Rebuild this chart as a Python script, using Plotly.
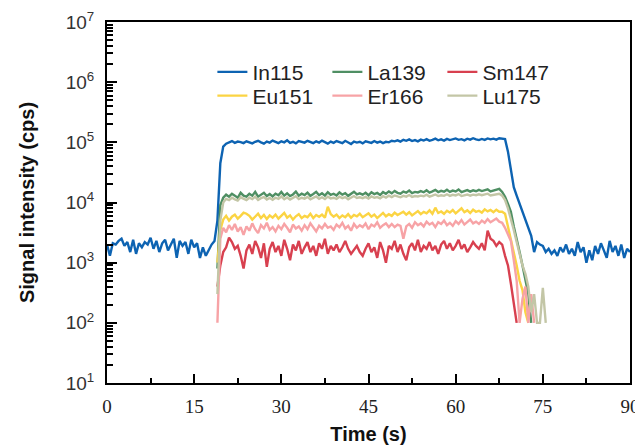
import numpy as np
import plotly.graph_objects as go

# ---------------- data ----------------
step = 0.5
in115_start = 0.0
in115 = [
    2000, 1300, 2100, 2000, 2300, 2500, 1900, 2200, 1500, 2400,
    1400, 2100, 1800, 2200, 2000, 2600, 1700, 2300, 1500, 2100,
    2400, 1600, 2000, 2500, 1200, 2300, 1900, 2200, 1400, 2400,
    1800, 2100, 1200, 1800, 1300, 1600, 2000, 2300, 5000, 45000,
    85000, 95000, 100000, 105000, 98000, 103000, 101000, 97000, 104000, 99000,
    96000, 102000, 106000, 100000, 95000, 103000, 99000, 107000, 101000, 97000,
    104000, 100000, 108000, 98000, 102000, 96000, 105000, 101000, 99000, 106000,
    100000, 97000, 104000, 99000, 107000, 102000, 95000, 103000, 98000, 105000,
    101000, 97000, 106000, 100000, 94000, 103000, 99000, 102000, 96000, 104000,
    100000, 98000, 105000, 99000, 103000, 97000, 102000, 100000, 106000, 104000,
    108000, 103000, 110000, 106000, 112000, 105000, 109000, 104000, 111000, 107000,
    113000, 106000, 110000, 115000, 108000, 112000, 107000, 114000, 109000, 111000,
    116000, 110000, 113000, 108000, 115000, 111000, 117000, 112000, 109000, 114000,
    110000, 116000, 112000, 115000, 111000, 117000, 114000, 113000, 70000, 38000,
    18000, 13000, 9500, 7500, 5500, 4000, 2800, 1500, 2200, 2000,
    1900, 1500, 1700, 1400, 1600, 1300, 1800, 1500, 2000, 1400,
    1700, 1300, 2200, 1500, 1800, 1000, 1600, 1100, 1900, 1400,
    2100, 1600, 1200, 2300, 1500, 1900, 1300, 2000, 1200, 1700,
    1500,
]

el_start = 19.0
la139 = [
    800, 9000, 12000, 13500, 12500, 14000, 13000, 12000, 14500, 13000,
    12500, 14000, 13000, 15000, 12500, 13500, 14500, 12800, 13800, 12600,
    14000, 13200, 15000, 13000, 14200, 12800, 13600, 15200, 13000, 14000,
    13300, 14600, 12900, 13800, 15000, 13200, 14200, 13000, 14800, 13400,
    14000, 13100, 14700, 13500, 14300, 12900, 13900, 15100, 13600, 14200,
    13500, 14500, 13200, 14800, 13800, 14400, 13300, 14900, 14000, 15300,
    14200, 15600, 14500, 14000, 15200, 14600, 15800, 14300, 15000, 14700,
    15500, 14800, 16000, 14600, 15300, 16200, 14900, 15600, 15100, 16300,
    15000, 15800, 15300, 16500, 14900, 15700, 16100, 15200, 15900, 15400,
    16200, 15500, 15900, 16600, 15300, 15800, 16200, 16800, 15000, 12500,
    9500, 7000, 4000, 2300, 1500, 900, 550, 300, 100,
]
sm147 = [
    400, 900, 1500, 1800, 2600, 2200, 1700, 1900, 1300, 800,
    1600, 2000, 1400, 2300, 1800, 1200, 2100, 850, 1700, 2200,
    1500, 1900, 1300, 2400, 1700, 1100, 2000, 1600, 2300, 1400,
    1800, 2200, 1500, 1900, 1300, 2100, 1700, 2500, 1400, 1900,
    1600, 2000, 1500, 1800, 2300, 1700, 1400, 1600, 1900, 1500,
    1300, 1700, 2100, 1500, 1800, 1200, 2200, 1600, 1000, 1900,
    1700, 2300, 1500, 2000, 1400, 1100, 1800, 2100, 1600, 2400,
    1500, 1900, 1700, 2200, 1600, 1900, 1400, 2000, 2300, 1700,
    2100, 1600, 1900, 2400, 1700, 2000, 1500, 1800, 2200, 1900,
    1700, 2100, 1600, 3400, 2500, 2300, 1900, 2200, 2000, 1300,
    900, 450, 210, 100,
]
eu151 = [
    1000, 3500, 5200, 6000, 5000, 5800, 6300, 5400, 6000, 6800,
    6500, 6000, 5200, 5800, 6500, 5500, 6200, 5300, 6100, 5600,
    6300, 5400, 6000, 6700, 5600, 6100, 5200, 5900, 6400, 5500,
    6000, 5700, 6500, 5500, 6200, 5800, 6300, 5600, 8500, 6400,
    5800, 6300, 5500, 6100, 5700, 6400, 5600, 6200, 5900, 6500,
    5700, 6200, 6600, 5800, 6300, 5500, 6100, 6700, 5900, 6400,
    6000, 6800, 6200, 6500, 7000, 6300, 6900, 6100, 6600, 7200,
    6400, 7000, 6600, 7400, 6500, 8200, 6700, 7100, 6500, 7300,
    6800, 7500, 6600, 7200, 8000, 6900, 7400, 6700, 7600, 7000,
    7300, 6800, 7700, 7100, 7500, 6900, 7600, 7000, 7000, 6500,
    4000, 2600, 1600, 900, 500, 350, 150, 100,
]
er166 = [
    100, 2500, 3800, 3200, 4200, 3500, 4400, 3300, 3900, 2900,
    4000, 3400, 4500, 3600, 3100, 4200, 3700, 4600, 3500, 3900,
    3300, 4100, 3600, 4400, 3800, 3200, 4300, 3700, 4000, 3400,
    4200, 3600, 4500, 3900, 3300, 4100, 3700, 4400, 3800, 4000,
    3500, 4300, 3900, 4600, 3700, 4100, 3400, 4400, 3800, 4200,
    3900, 4500, 3600, 4300, 4000, 4700, 3800, 4200, 4500, 3900,
    4400, 3900, 4300, 4100, 2500, 4000, 4400, 3800, 4700, 4200,
    4500, 4000, 4800, 4300, 4600, 3900, 4700, 4400, 5000, 4200,
    4600, 4100, 4900, 4400, 5100, 4300, 4700, 5200, 4500, 4800,
    4400, 5000, 4600, 5300, 4700, 5100, 5400, 4800, 4600, 3800,
    3000, 2300, 1100, 500, 100, 250, 400, 100, 300, 100,
]
lu175 = [
    300, 5000, 10000, 11500, 11000, 12000, 11300, 10800, 12200, 11500,
    11000, 12000, 11400, 12500, 11000, 11800, 12300, 11200, 11900, 11100,
    12000, 11500, 12600, 11300, 12100, 11200, 11800, 12700, 11400, 12000,
    11600, 12400, 11300, 11900, 12600, 11500, 12200, 11400, 12500, 11700,
    12000, 11500, 12500, 11800, 12300, 11300, 12000, 12800, 11900, 12200,
    11800, 12400, 11600, 12600, 12000, 12300, 11700, 12700, 12100, 13000,
    12300, 13100, 12600, 12200, 12900, 12500, 13300, 12400, 12800, 12600,
    13000, 12700, 13500, 12500, 13000, 13600, 12800, 13200, 12900, 13700,
    12900, 13400, 13100, 13800, 12800, 13300, 13600, 13000, 13500, 13200,
    13700, 13200, 13500, 14000, 13100, 13400, 13700, 14000, 13000, 11000,
    8000, 5500, 3500, 2200, 1400, 900, 650, 400, 150, 300,
    100, 100, 380, 100,
]

series_names = ["In115", "La139", "Sm147", "Eu151", "Er166", "Lu175"]
series_values = [in115, la139, sm147, eu151, er166, lu175]
series_starts = [in115_start, el_start, el_start, el_start, el_start, el_start]
series_legend = ["legend", "legend", "legend", "legend2", "legend2", "legend2"]
colors = ["#0d63b2", "#4f8f63", "#d8404f", "#fbd443", "#f7a3a6", "#c3c6a6"]

x_ticks = [0, 15, 30, 45, 60, 75, 90]
y_ticks = [1e1, 1e2, 1e3, 1e4, 1e5, 1e6, 1e7]
y_ticktext = ["10<sup>%d</sup>" % e for e in range(1, 8)]
y_minor = [m * 10 ** e for e in range(1, 7) for m in range(2, 10)]

# ---------------- figure ----------------
fig = go.Figure()
for name, vals, t0, col, lg in zip(series_names, series_values, series_starts, colors, series_legend):
    t = t0 + step * np.arange(len(vals))
    fig.add_trace(go.Scatter(x=t, y=vals, mode="lines", name=name, legend=lg,
                             line=dict(color=col, width=2.4)))

legend_common = dict(orientation="h", xanchor="left", yanchor="middle",
                     entrywidth=70, entrywidthmode="pixels",
                     font=dict(size=21, family="Liberation Sans, Arial", color="#222"),
                     bgcolor="rgba(0,0,0,0)", borderwidth=0)

# the page body adds an 8px offset, so the figure is 8px smaller on each axis
fig.update_layout(
    width=635, height=438,
    margin=dict(l=99, r=13, t=14, b=63, autoexpand=False),
    paper_bgcolor="white", plot_bgcolor="white",
    font=dict(family="Liberation Sans, Arial", color="#222"),
    legend=dict(x=0.2015, y=0.861, **legend_common),
    legend2=dict(x=0.2015, y=0.795, **legend_common),
    showlegend=True,
)
fig.update_xaxes(
    range=[0, 90], tickvals=x_ticks, ticks="inside", ticklen=9, tickwidth=2,
    tickcolor="black", showline=True, linecolor="black", linewidth=2, mirror=True,
    showgrid=False, zeroline=False, automargin=False, ticklabelstandoff=5,
    tickfont=dict(family="Liberation Serif, Times New Roman", size=19, color="#222"),
    minor=dict(dtick=7.5, tick0=0, ticks="inside", ticklen=5, tickwidth=2, tickcolor="black"),
    title=dict(text="<b>Time (s)</b>", font=dict(size=20, family="Liberation Sans, Arial", color="#111"),
               standoff=11),
)
fig.update_yaxes(
    type="log", range=[1, 7], tickvals=y_ticks, ticktext=y_ticktext,
    ticks="inside", ticklen=10, tickwidth=2, tickcolor="black",
    showline=True, linecolor="black", linewidth=2, mirror=True,
    showgrid=False, zeroline=False, automargin=False, ticklabelstandoff=7,
    tickfont=dict(family="Liberation Sans, Arial", size=19, color="#333"),
    minor=dict(tickvals=y_minor, ticks="inside", ticklen=6, tickwidth=2, tickcolor="black"),
    title=dict(text="<b>Signal intensity (cps)</b>", font=dict(size=20, family="Liberation Sans, Arial", color="#111"),
               standoff=26),
)

fig.write_html("out.html")
